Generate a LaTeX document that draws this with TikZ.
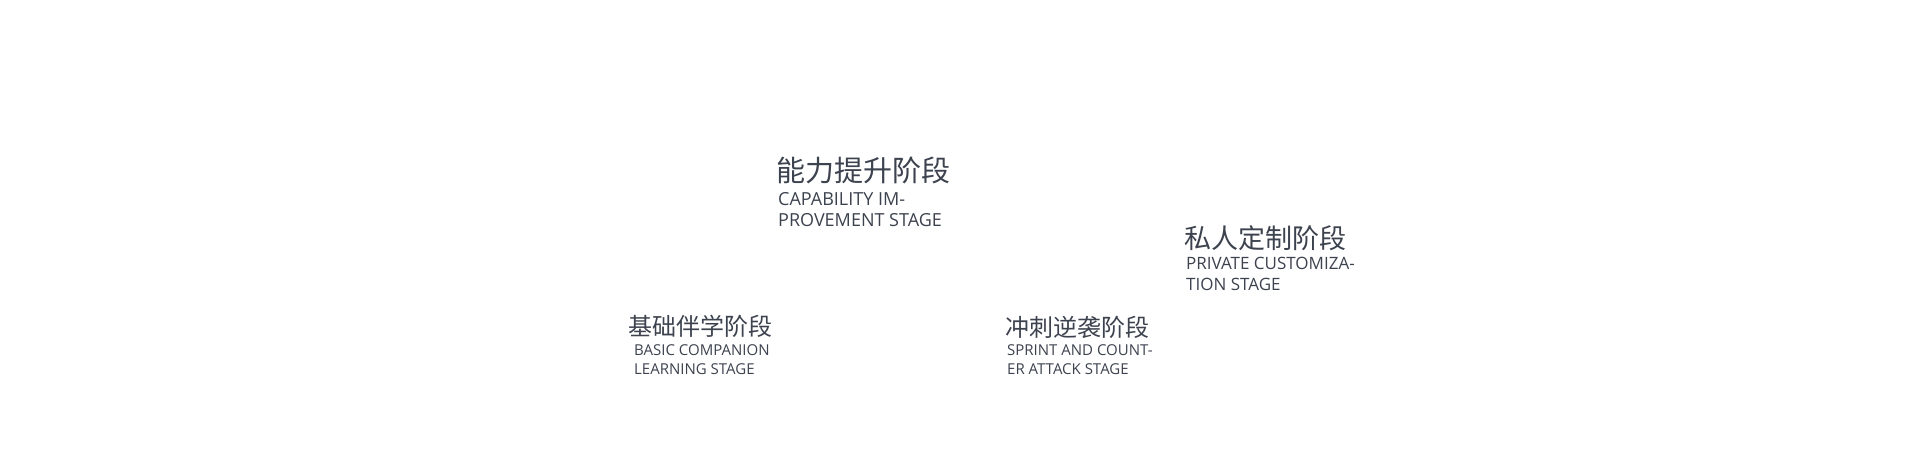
\documentclass[tikz,border=0pt]{standalone}
\usepackage{fontspec}
\setmainfont{Open Sans}
\newfontfamily\cjk{Noto Sans CJK SC}
\definecolor{stagegray}{RGB}{60,66,78}
\tikzset{
    stagecn/.style={anchor=west, inner sep=0pt, text=stagegray, font=\cjk},
    stageen/.style={anchor=base west, inner sep=0pt, align=left, text=stagegray}
}
\begin{document}
\begin{tikzpicture}[x=1pt, y=1pt]
            \useasboundingbox (0,0) rectangle (1920,466);
            \node[stagecn, font=\cjk\fontsize{24}{24}\selectfont] (basiccn) at (628,140) {基础伴学阶段};
            \node[stageen, font=\fontsize{15}{19}\selectfont] (basicen) at (634,91) {BASIC COMPANION\\LEARNING STAGE};
            \node[stagecn, font=\cjk\fontsize{29}{29}\selectfont] (abilitycn) at (776,295.5) {能力提升阶段};
            \node[stageen, font=\fontsize{18}{21}\selectfont] (abilityen) at (778,239) {CAPABILITY IM-\\PROVEMENT STAGE};
            \node[stagecn, font=\cjk\fontsize{24}{24}\selectfont] (sprintcn) at (1005,139) {冲刺逆袭阶段};
            \node[stageen, font=\fontsize{15}{19}\selectfont] (sprinten) at (1007,91) {SPRINT AND COUNT-\\ER ATTACK STAGE};
            \node[stagecn, font=\cjk\fontsize{27}{27}\selectfont] (privatecn) at (1184,228) {私人定制阶段};
            \node[stageen, font=\fontsize{17}{21}\selectfont] (privateen) at (1186,175) {PRIVATE CUSTOMIZA-\\TION STAGE};
        \end{tikzpicture}
\end{document}
